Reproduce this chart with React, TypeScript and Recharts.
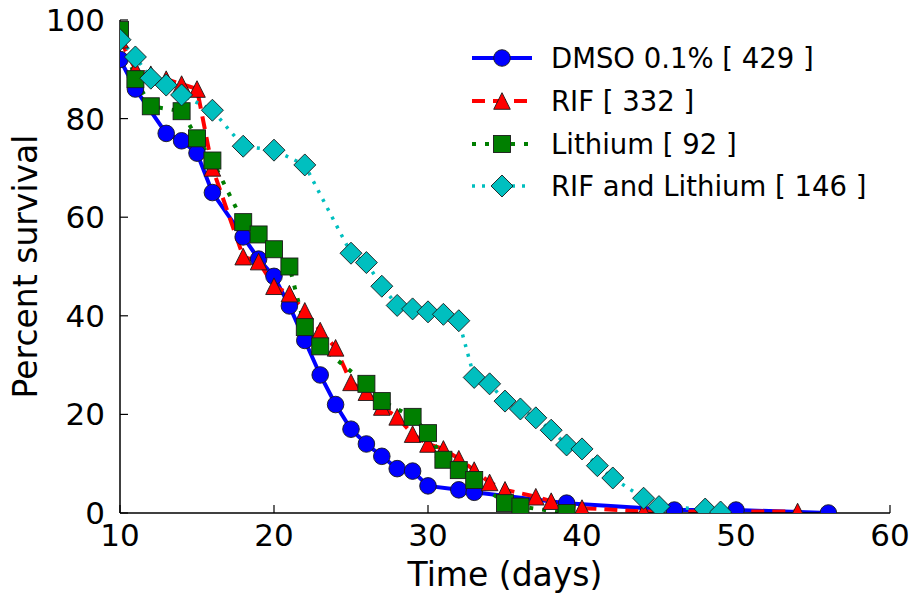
import React from 'react'
import { LineChart, Line, XAxis, YAxis, Legend } from 'recharts'

// survival curves (day, percent surviving)
const dmsoDays = [10, 11, 13, 14, 15, 16, 18, 19, 20, 21, 22, 23, 24, 25, 26, 27, 28, 29, 30, 32, 33, 39, 46, 50, 56]
const dmsoSurv = [92, 86, 77, 75.5, 73, 65, 56, 51.5, 48, 42, 35, 28, 22, 17, 14, 11.5, 9, 8.5, 5.5, 4.7, 4.2, 2, 0.6, 0.6, 0]

const rifDays = [10, 11, 12, 13, 14, 15, 16, 18, 19, 20, 21, 22, 23, 24, 25, 26, 27, 28, 29, 30, 31, 32, 33, 34, 35, 37, 38, 40, 44, 45, 54]
const rifSurv = [96, 90, 89, 88, 87, 86, 70, 52, 51, 46, 44.5, 41, 37, 33.5, 26.5, 24.5, 21.5, 19.5, 16, 14, 13, 11, 8.7, 6.2, 4.7, 3.3, 2.4, 1, 0.3, 0.3, 0.3]

const lithDays = [10, 11, 12, 14, 15, 16, 18, 19, 20, 21, 22, 23, 26, 27, 29, 30, 31, 32, 33, 35, 36, 39]
const lithSurv = [98, 88, 82.5, 81.5, 76, 71.5, 59, 56.5, 53.5, 50, 37.7, 33.8, 26.2, 22.7, 19.5, 16.2, 10.8, 8.7, 6.7, 2, 1.3, 0]

const comboDays = [10, 11, 12, 13, 14, 16, 18, 20, 22, 25, 26, 27, 28, 29, 30, 31, 32, 33, 34, 35, 36, 37, 38, 39, 40, 41, 42, 44, 45, 48, 49]
const comboSurv = [96, 92.5, 88.2, 86.8, 84.8, 81.7, 74.4, 73.6, 70.6, 52.7, 50.8, 46, 42.1, 41.4, 40.8, 40.3, 39, 27.5, 26.2, 22.7, 21.1, 19.3, 16.8, 13.8, 13, 9.6, 7.1, 3, 1.3, 0.8, 0.2]

const xTicks = [10, 20, 30, 40, 50, 60]
const yTicks = [0, 20, 40, 60, 80, 100]

const FONT = '"DejaVu Sans", sans-serif'

const toPoints = (days: number[], vals: number[]) => days.map((d, i) => ({ day: d, pct: vals[i] }))

type Shape = 'circle' | 'triangle' | 'square' | 'diamond'

const series = [
  { name: 'DMSO 0.1% [ 429 ]', data: toPoints(dmsoDays, dmsoSurv), color: '#0000ff', shape: 'circle' as Shape, dash: undefined, width: 4 },
  { name: 'RIF [ 332 ]', data: toPoints(rifDays, rifSurv), color: '#ff0000', shape: 'triangle' as Shape, dash: '13 8', width: 4 },
  { name: 'Lithium [ 92 ]', data: toPoints(lithDays, lithSurv), color: '#007f00', shape: 'square' as Shape, dash: '4 9', width: 4 },
  { name: 'RIF and Lithium [ 146 ]', data: toPoints(comboDays, comboSurv), color: '#00bfbf', shape: 'diamond' as Shape, dash: '3 7', width: 3.5 },
]

function Marker({ shape, cx, cy, fill }: { shape: Shape; cx?: number; cy?: number; fill: string }) {
  if (cx == null || cy == null || isNaN(cx) || isNaN(cy)) return null
  const edge = { fill, stroke: '#1a1a1a', strokeWidth: 0.9 }
  if (shape === 'circle') return <circle cx={cx} cy={cy} r={8.3} {...edge} />
  if (shape === 'triangle') {
    const h = 8.3
    return <polygon points={`${cx},${cy - h} ${cx - h},${cy + h} ${cx + h},${cy + h}`} {...edge} />
  }
  if (shape === 'square') return <rect x={cx - 8.5} y={cy - 8.5} width={17} height={17} {...edge} />
  const d = 11
  return <polygon points={`${cx},${cy - d} ${cx + d},${cy} ${cx},${cy + d} ${cx - d},${cy}`} {...edge} />
}

function LegendBox() {
  return (
    <div style={{ fontFamily: FONT, fontSize: 27.5, color: '#000' }}>
      {series.map(s => (
        <div key={s.name} style={{ display: 'flex', alignItems: 'center', height: 42.7 }}>
          <svg width={79} height={30} style={{ flex: 'none' }}>
            <line x1={0} x2={60} y1={15} y2={15} stroke={s.color} strokeWidth={s.width} strokeDasharray={s.dash} />
            <Marker shape={s.shape} cx={30} cy={15} fill={s.color} />
          </svg>
          <span style={{ whiteSpace: 'nowrap' }}>{s.name}</span>
        </div>
      ))}
    </div>
  )
}

export default function App() {
  const tickStyle = { fill: '#000', fontSize: 31, fontFamily: FONT }
  return (
    <div style={{ width: 910, height: 594 }}>
      {/* drop the default body margin so the chart fills the window */}
      <style>{'body { margin: 0; }'}</style>
      <LineChart width={910} height={594} margin={{ top: 20, right: 20, bottom: 0, left: 0 }}>
        <XAxis
          dataKey="day"
          type="number"
          domain={[10, 60]}
          ticks={xTicks}
          interval={0}
          allowDataOverflow
          height={81}
          tick={tickStyle}
          tickSize={-8}
          tickMargin={19}
          tickLine={{ stroke: '#000', strokeWidth: 1.2 }}
          axisLine={{ stroke: '#000', strokeWidth: 1.5 }}
          label={{ value: 'Time (days)', position: 'insideBottom', offset: 8, fill: '#000', fontSize: 33, fontFamily: FONT }}
        />
        <XAxis xAxisId="top" orientation="top" type="number" domain={[10, 60]} height={0} tick={false} tickLine={false} axisLine={{ stroke: '#000', strokeWidth: 1.5 }} />
        <YAxis
          type="number"
          domain={[0, 100]}
          ticks={yTicks}
          interval={0}
          allowDataOverflow
          width={120}
          tick={tickStyle}
          tickSize={-8}
          tickMargin={23}
          tickLine={{ stroke: '#000', strokeWidth: 1.2 }}
          axisLine={{ stroke: '#000', strokeWidth: 1.5 }}
          label={{ value: 'Percent survival', angle: -90, position: 'insideLeft', offset: 25, fill: '#000', fontSize: 33, fontFamily: FONT, style: { textAnchor: 'middle' } }}
        />
        <YAxis yAxisId="right" orientation="right" domain={[0, 100]} width={0} tick={false} tickLine={false} axisLine={{ stroke: '#000', strokeWidth: 1.5 }} />
        <Legend
          layout="horizontal"
          verticalAlign="middle"
          align="center"
          content={() => <LegendBox />}
          wrapperStyle={{ left: 472, top: 37, width: 420, height: 180 }}
        />
        {series.map(s => (
          <Line
            key={s.name}
            data={s.data}
            dataKey="pct"
            name={s.name}
            type="linear"
            stroke={s.color}
            strokeWidth={s.width}
            strokeDasharray={s.dash}
            isAnimationActive={false}
            activeDot={false}
            dot={(p: any) => <Marker key={`${s.name}-${p.index}`} shape={s.shape} cx={p.cx} cy={p.cy} fill={s.color} />}
          />
        ))}
      </LineChart>
    </div>
  )
}
